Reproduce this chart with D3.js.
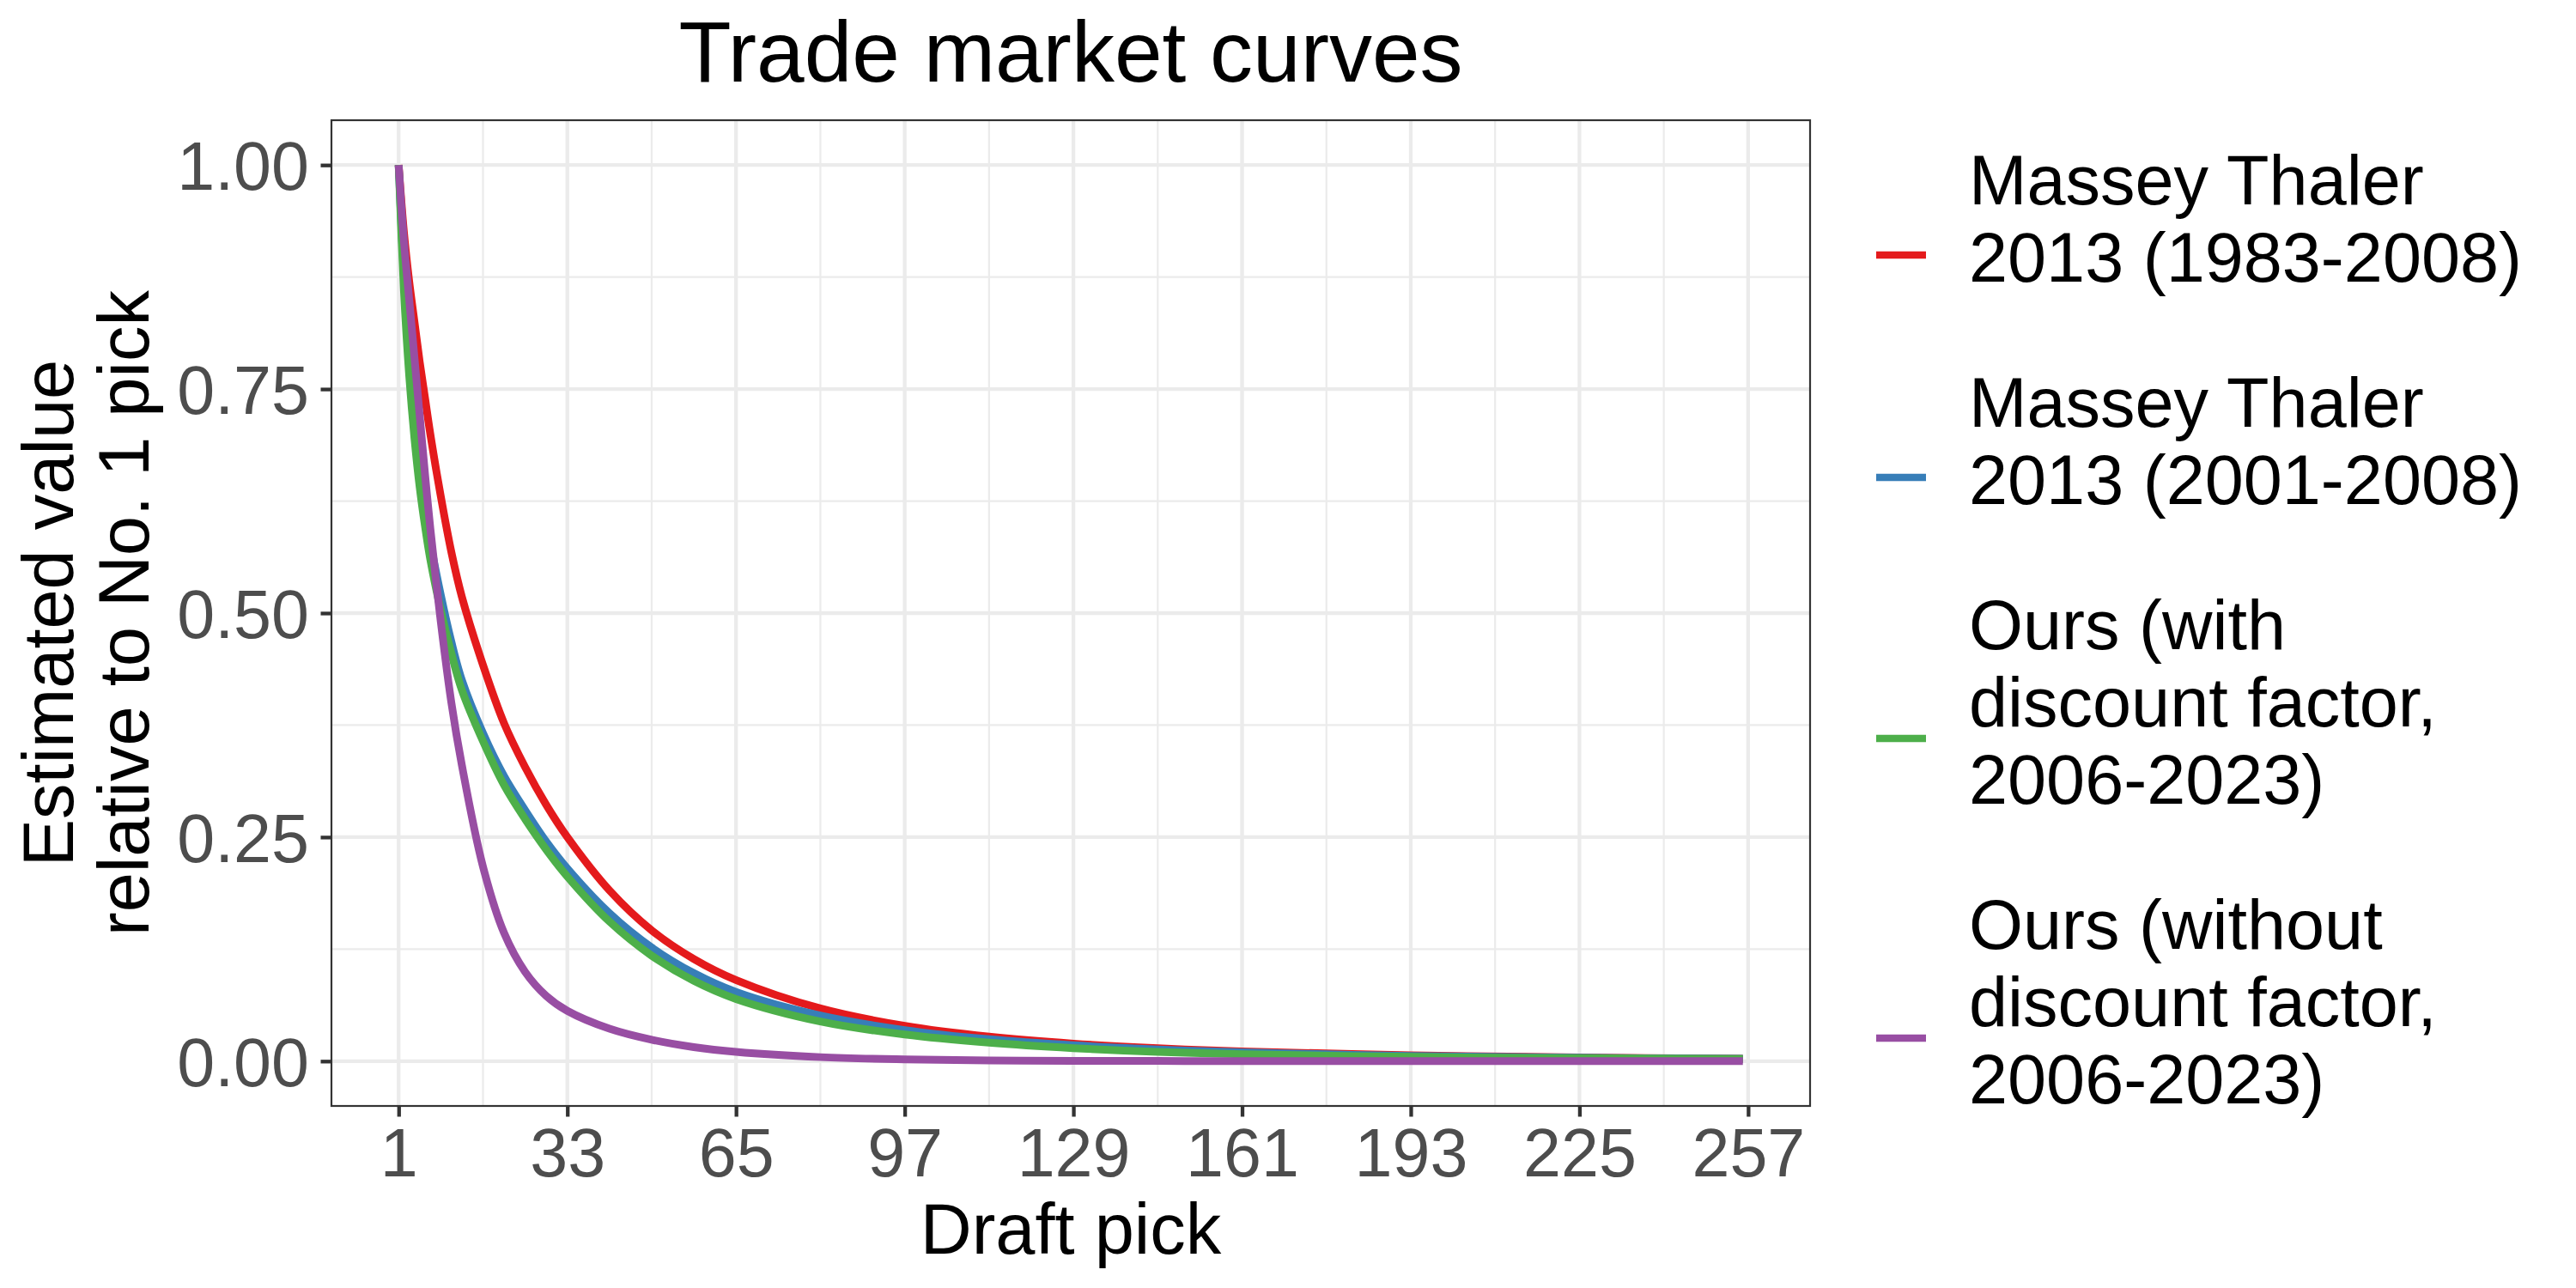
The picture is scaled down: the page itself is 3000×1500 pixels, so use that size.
<!DOCTYPE html>
<html>
<head>
<meta charset="utf-8">
<script src="https://cdn.jsdelivr.net/npm/d3@7"></script>
<style>
  html, body { margin: 0; padding: 0; background: #ffffff; }
  svg { display: block; }
  text { font-family: "Liberation Sans", Arial, Helvetica, sans-serif; }
</style>
</head>
<body>
<svg id="chart" width="3000" height="1500"></svg>
<script>
// ---------------- data ----------------
const picks = [1, 2, 3, 4, 5, 6, 7, 9, 11, 13, 17, 21, 25, 29, 33, 41, 49, 57, 65, 81, 97, 113, 129, 145, 161, 193, 225, 256];

const masseyThaler8308 = [1.0, 0.925, 0.87, 0.825, 0.78, 0.74, 0.70, 0.63, 0.568, 0.518, 0.442, 0.377, 0.328, 0.286, 0.250, 0.1905, 0.146, 0.114, 0.0905, 0.0588, 0.0394, 0.0273, 0.0195, 0.0144, 0.0109, 0.0066, 0.0041, 0.0026];
const masseyThaler0108 = [1.0, 0.875, 0.785, 0.72, 0.665, 0.62, 0.58, 0.52, 0.468, 0.425, 0.366, 0.318, 0.280, 0.245, 0.215, 0.165, 0.1268, 0.0982, 0.0772, 0.0509, 0.0347, 0.0244, 0.0177, 0.0131, 0.0098, 0.0059, 0.0038, 0.0026];
const oursWithDiscount = [1.0, 0.86, 0.765, 0.695, 0.64, 0.597, 0.56, 0.503, 0.455, 0.414, 0.357, 0.308, 0.270, 0.236, 0.206, 0.1557, 0.1177, 0.0896, 0.0694, 0.0443, 0.0297, 0.0206, 0.0145, 0.0103, 0.0078, 0.0048, 0.0033, 0.0024];
const oursWithoutDiscount = [1.0, 0.915, 0.85, 0.785, 0.72, 0.655, 0.595, 0.49, 0.40, 0.33, 0.217, 0.143, 0.0995, 0.0728, 0.0561, 0.0362, 0.0239, 0.0157, 0.0104, 0.0045, 0.002, 0.0009, 0.0004, 0.0002, 0.0001, 0, 0, 0];

const seriesNames = [
  ["Massey Thaler", "2013 (1983-2008)"],
  ["Massey Thaler", "2013 (2001-2008)"],
  ["Ours (with", "discount factor,", "2006-2023)"],
  ["Ours (without", "discount factor,", "2006-2023)"]
];
const seriesValues = [masseyThaler8308, masseyThaler0108, oursWithDiscount, oursWithoutDiscount];
const seriesColors = ["#E41A1C", "#377EB8", "#4DAF4A", "#984EA3"];

const xTicks = [1, 33, 65, 97, 129, 161, 193, 225, 257];
const xMinorTicks = [17, 49, 81, 113, 145, 177, 209, 241];
const yTicks = [0, 0.25, 0.5, 0.75, 1.0];
const yTickLabels = ["0.00", "0.25", "0.50", "0.75", "1.00"];
const yMinorTicks = [0.125, 0.375, 0.625, 0.875];

const titleText = "Trade market curves";
const xTitle = "Draft pick";
const yTitleLines = ["Estimated value", "relative to No. 1 pick"];

// ---------------- layout ----------------
const panel = { left: 386, top: 140, right: 2108, bottom: 1288 };
const xDom = [1, 256];
const yDom = [0, 1];
const xPad = (xDom[1] - xDom[0]) * 0.05;
const yPad = (yDom[1] - yDom[0]) * 0.05;

const x = d3.scaleLinear().domain([xDom[0] - xPad, xDom[1] + xPad]).range([panel.left, panel.right]);
const y = d3.scaleLinear().domain([yDom[0] - yPad, yDom[1] + yPad]).range([panel.bottom, panel.top]);

const svg = d3.select("#chart");
svg.append("rect").attr("width", 3000).attr("height", 1500).attr("fill", "#ffffff");

// gridlines
const grid = svg.append("g");
grid.selectAll("line.xminor").data(xMinorTicks).join("line")
  .attr("x1", d => x(d)).attr("x2", d => x(d))
  .attr("y1", panel.top).attr("y2", panel.bottom)
  .attr("stroke", "#EBEBEB").attr("stroke-width", 2.2);
grid.selectAll("line.yminor").data(yMinorTicks).join("line")
  .attr("x1", panel.left).attr("x2", panel.right)
  .attr("y1", d => y(d)).attr("y2", d => y(d))
  .attr("stroke", "#EBEBEB").attr("stroke-width", 2.2);
grid.selectAll("line.xmajor").data(xTicks).join("line")
  .attr("x1", d => x(d)).attr("x2", d => x(d))
  .attr("y1", panel.top).attr("y2", panel.bottom)
  .attr("stroke", "#EBEBEB").attr("stroke-width", 4.3);
grid.selectAll("line.ymajor").data(yTicks).join("line")
  .attr("x1", panel.left).attr("x2", panel.right)
  .attr("y1", d => y(d)).attr("y2", d => y(d))
  .attr("stroke", "#EBEBEB").attr("stroke-width", 4.3);

// curves
const line = d3.line()
  .x(d => x(d[0]))
  .y(d => y(d[1]))
  .curve(d3.curveCatmullRom.alpha(0.5));

const clipId = "panelClip";
svg.append("clipPath").attr("id", clipId).append("rect")
  .attr("x", panel.left).attr("y", panel.top)
  .attr("width", panel.right - panel.left).attr("height", panel.bottom - panel.top);

const curves = svg.append("g").attr("clip-path", `url(#${clipId})`);
seriesValues.forEach((vals, i) => {
  curves.append("path")
    .datum(picks.map((p, j) => [p, vals[j]]))
    .attr("d", line)
    .attr("fill", "none")
    .attr("stroke", seriesColors[i])
    .attr("stroke-width", 9)
    .attr("stroke-linejoin", "round")
    .attr("stroke-linecap", "butt");
});

// panel border
svg.append("rect")
  .attr("x", panel.left).attr("y", panel.top)
  .attr("width", panel.right - panel.left).attr("height", panel.bottom - panel.top)
  .attr("fill", "none").attr("stroke", "#333333").attr("stroke-width", 2.2);

// axes
const xAxis = d3.axisBottom(x).tickValues(xTicks).tickSize(12.5).tickPadding(0).tickFormat(d3.format("d"));
const gx = svg.append("g").attr("transform", `translate(0,${panel.bottom})`).call(xAxis);
gx.select(".domain").remove();
gx.selectAll(".tick line").attr("stroke", "#333333").attr("stroke-width", 4.3);
gx.selectAll(".tick text")
  .attr("y", 82).attr("dy", null)
  .attr("fill", "#4D4D4D").attr("font-size", 79)
  .style("font-family", "'Liberation Sans', Arial, Helvetica, sans-serif");

const yAxis = d3.axisLeft(y).tickValues(yTicks).tickSize(12.5).tickPadding(0)
  .tickFormat((d, i) => yTickLabels[i]);
const gy = svg.append("g").attr("transform", `translate(${panel.left},0)`).call(yAxis);
gy.select(".domain").remove();
gy.selectAll(".tick line").attr("stroke", "#333333").attr("stroke-width", 4.3);
gy.selectAll(".tick text")
  .attr("x", -26).attr("dy", "0.36em")
  .attr("fill", "#4D4D4D").attr("font-size", 79)
  .style("font-family", "'Liberation Sans', Arial, Helvetica, sans-serif");

// titles
const panelCx = (panel.left + panel.right) / 2;
const panelCy = (panel.top + panel.bottom) / 2;

svg.append("text")
  .attr("x", panelCx).attr("y", 95)
  .attr("text-anchor", "middle").attr("font-size", 100).attr("fill", "#000000")
  .text(titleText);

svg.append("text")
  .attr("x", panelCx).attr("y", 1460)
  .attr("text-anchor", "middle").attr("font-size", 83).attr("fill", "#000000")
  .text(xTitle);

const yTitleBaselines = [85, 173];
yTitleLines.forEach((t, i) => {
  svg.append("text")
    .attr("transform", `translate(${yTitleBaselines[i]},${panelCy}) rotate(-90)`)
    .attr("text-anchor", "middle").attr("font-size", 83).attr("fill", "#000000")
    .text(t);
});

// legend
const legend = svg.append("g");
const lineH = 90;
let baseline = 238;
seriesNames.forEach((lines, i) => {
  const n = lines.length;
  const keyY = baseline + (n - 1) * lineH / 2 + 14;
  legend.append("line")
    .attr("x1", 2185).attr("x2", 2243)
    .attr("y1", keyY).attr("y2", keyY)
    .attr("stroke", seriesColors[i]).attr("stroke-width", 8.5);
  const t = legend.append("text")
    .attr("x", 2293).attr("y", baseline)
    .attr("font-size", 81).attr("fill", "#000000");
  lines.forEach((ln, j) => {
    t.append("tspan").attr("x", 2293).attr("y", baseline + j * lineH).text(ln);
  });
  baseline += n * lineH + 79;
});
</script>
</body>
</html>
